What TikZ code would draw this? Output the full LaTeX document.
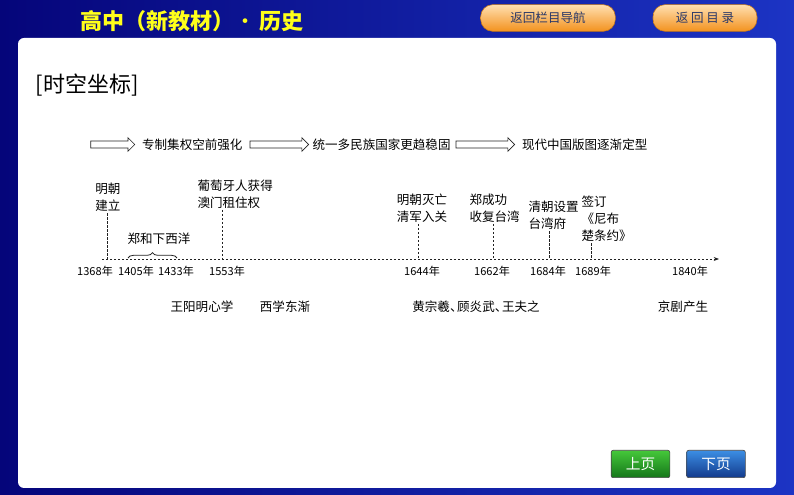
\documentclass[tikz,border=0pt]{standalone}
\usepackage{fontspec}
\newfontfamily\cjk{Noto Sans CJK SC}
\usetikzlibrary{calc,arrows.meta,decorations.pathreplacing,positioning,shapes.arrows}
\definecolor{BgDark}{HTML}{05057A}
\definecolor{BgLight}{HTML}{1C34C4}
\definecolor{TitleYel}{HTML}{FFFF1A}
\definecolor{BtnTop}{HTML}{FFDFB0}
\definecolor{BtnBot}{HTML}{F3921E}
\definecolor{BtnText}{HTML}{2A3868}
\definecolor{PrevTop}{HTML}{45C83A}
\definecolor{PrevBot}{HTML}{15761A}
\definecolor{NextTop}{HTML}{3C8EE4}
\definecolor{NextBot}{HTML}{133A8C}
\definecolor{LineCol}{HTML}{222222}

\begin{document}
\begin{tikzpicture}[x=0.75pt,y=-0.75pt,>=Stealth]
  \tikzstyle{evt}=[font=\cjk\fontsize{9.4}{12.8}\selectfont, inner sep=1pt, align=left]
  \tikzstyle{yr}=[font=\cjk\fontsize{8.3}{10}\selectfont, inner sep=1pt]
  \tikzstyle{harrow}=[single arrow, draw=LineCol, line width=0.5pt, fill=white, inner sep=0pt,
              inner ysep=2.4pt, minimum width=9pt, single arrow head extend=2.4pt,
              single arrow tip angle=90]
  \tikzstyle{tickln}=[LineCol, line width=0.6pt, dash pattern=on 1.6pt off 1.4pt]
  \tikzstyle{axln}=[LineCol, line width=0.6pt, dash pattern=on 1.6pt off 1.4pt,
              -{Stealth[length=4pt,width=3pt]}]
  \tikzstyle{brc}=[LineCol, line width=0.6pt, decorate,
              decoration={brace,amplitude=4pt}]
  \tikzstyle{navbtn}=[rounded corners=9pt, top color=BtnTop, bottom color=BtnBot,
              draw=BtnBot!80!black, line width=0.4pt, text=BtnText, minimum height=20pt,
              font=\cjk\fontsize{9.4}{10}\selectfont]
  \tikzstyle{pgbtn}=[rounded corners=1.5pt, draw=black!70, line width=0.5pt, text=white,
              minimum width=44pt, minimum height=20.5pt, font=\cjk\fontsize{11}{12}\selectfont]
  \useasboundingbox (0,0) rectangle (794,495);
  % background and page
  \shade[left color=BgDark, right color=BgLight] (0,0) rectangle (794,495);
  \fill[white, rounded corners=4.5pt] (18,38) rectangle (776,488);
  % header
  \node[font=\cjk\bfseries\fontsize{16.5}{18}\selectfont, text=TitleYel, anchor=west]
    (ttl) at (76,21) {高中（新教材）{\mdseries ·}\kern2pt 历史};
  \node[navbtn, minimum width=101pt] (bnav) at (548,18) {返回栏目导航};
  \node[navbtn, minimum width=78pt] (bidx) at (705,18) {返\kern2pt 回\kern2pt 目\kern2pt 录};
  \node[font=\cjk\fontsize{16.5}{18}\selectfont, anchor=west] (sect) at (31,85) {[时空坐标]};
  % phases
  \node[harrow, minimum height=33pt] (a1) at (111,144.5) {};
  \node[evt, right=4pt of a1] (p1) {专制集权空前强化};
  \node[harrow, minimum height=44pt] (a2) at (277.5,144.5) {};
  \node[evt, right=1.5pt of a2] (p2) {统一多民族国家更趋稳固};
  \node[harrow, minimum height=44pt] (a3) at (483.5,144.5) {};
  \node[evt, right=4pt of a3] (p3) {现代中国版图逐渐定型};
  % axis
  \coordinate (axL) at (102,259);
  \coordinate (axR) at (719,259);
  \draw[axln] (axL) -- (axR);
  % events above the axis
  \node[evt, align=center] (l1368) at (108,197.5) {明朝\\建立};
  \node[evt, anchor=west] (l1553) at (196,194) {葡萄牙人获得\\澳门租住权};
  \node[evt, align=center] (l1644) at (422,208) {明朝灭亡\\清军入关};
  \node[evt, anchor=west] (l1662) at (468,208) {郑成功\\收复台湾};
  \node[evt, anchor=west] (l1684) at (527,215.5) {清朝设置\\台湾府};
  \node[evt, anchor=west] (l1689) at (580,219) {签订\\《尼布\\楚条约》};
  \coordinate (t1368) at (107,259);
  \coordinate (t1553) at (222,259);
  \coordinate (t1644) at (418,259);
  \coordinate (t1662) at (493,259);
  \coordinate (t1684) at (549,259);
  \coordinate (t1689) at (591,259);
  \draw[tickln] (t1368 |- l1368.south) -- (t1368);
  \draw[tickln] (t1553 |- l1553.south) -- (t1553);
  \draw[tickln] (t1644 |- l1644.south) -- (t1644);
  \draw[tickln] (t1662 |- l1662.south) -- (t1662);
  \draw[tickln] (t1684 |- l1684.south) -- (t1684);
  \draw[tickln] (t1689 |- l1689.south) -- (t1689);
  % voyages
  \coordinate (c1405) at (128,258);
  \coordinate (c1433) at (177,258);
  \draw[brc] (c1405) -- (c1433);
  \node[evt] (zh) at (159,239) {郑和下西洋};
  % years
  \node[yr] (y1368) at (95,271) {1368年};
  \node[yr] (y1405) at (136,271) {1405年};
  \node[yr] (y1433) at (176,271) {1433年};
  \node[yr] (y1553) at (227,271) {1553年};
  \node[yr] (y1644) at (422,271) {1644年};
  \node[yr] (y1662) at (492,271) {1662年};
  \node[yr] (y1684) at (548,271) {1684年};
  \node[yr] (y1689) at (593,271) {1689年};
  \node[yr] (y1840) at (690,271) {1840年};
  % culture
  \node[evt] (w1) at (202,307) {王阳明心学};
  \node[evt] (w2) at (285,307) {西学东渐};
  \node[evt] (w3) at (476,307) {黄宗羲、\kern-4pt 顾炎武、\kern-4pt 王夫之};
  \node[evt] (w4) at (683,307) {京剧产生};
  % page buttons
  \node[pgbtn, top color=PrevTop, bottom color=PrevBot] (prev) at (640.5,464) {上页};
  \node[pgbtn, top color=NextTop, bottom color=NextBot] (next) at (716,464) {下页};
\end{tikzpicture}
\end{document}
